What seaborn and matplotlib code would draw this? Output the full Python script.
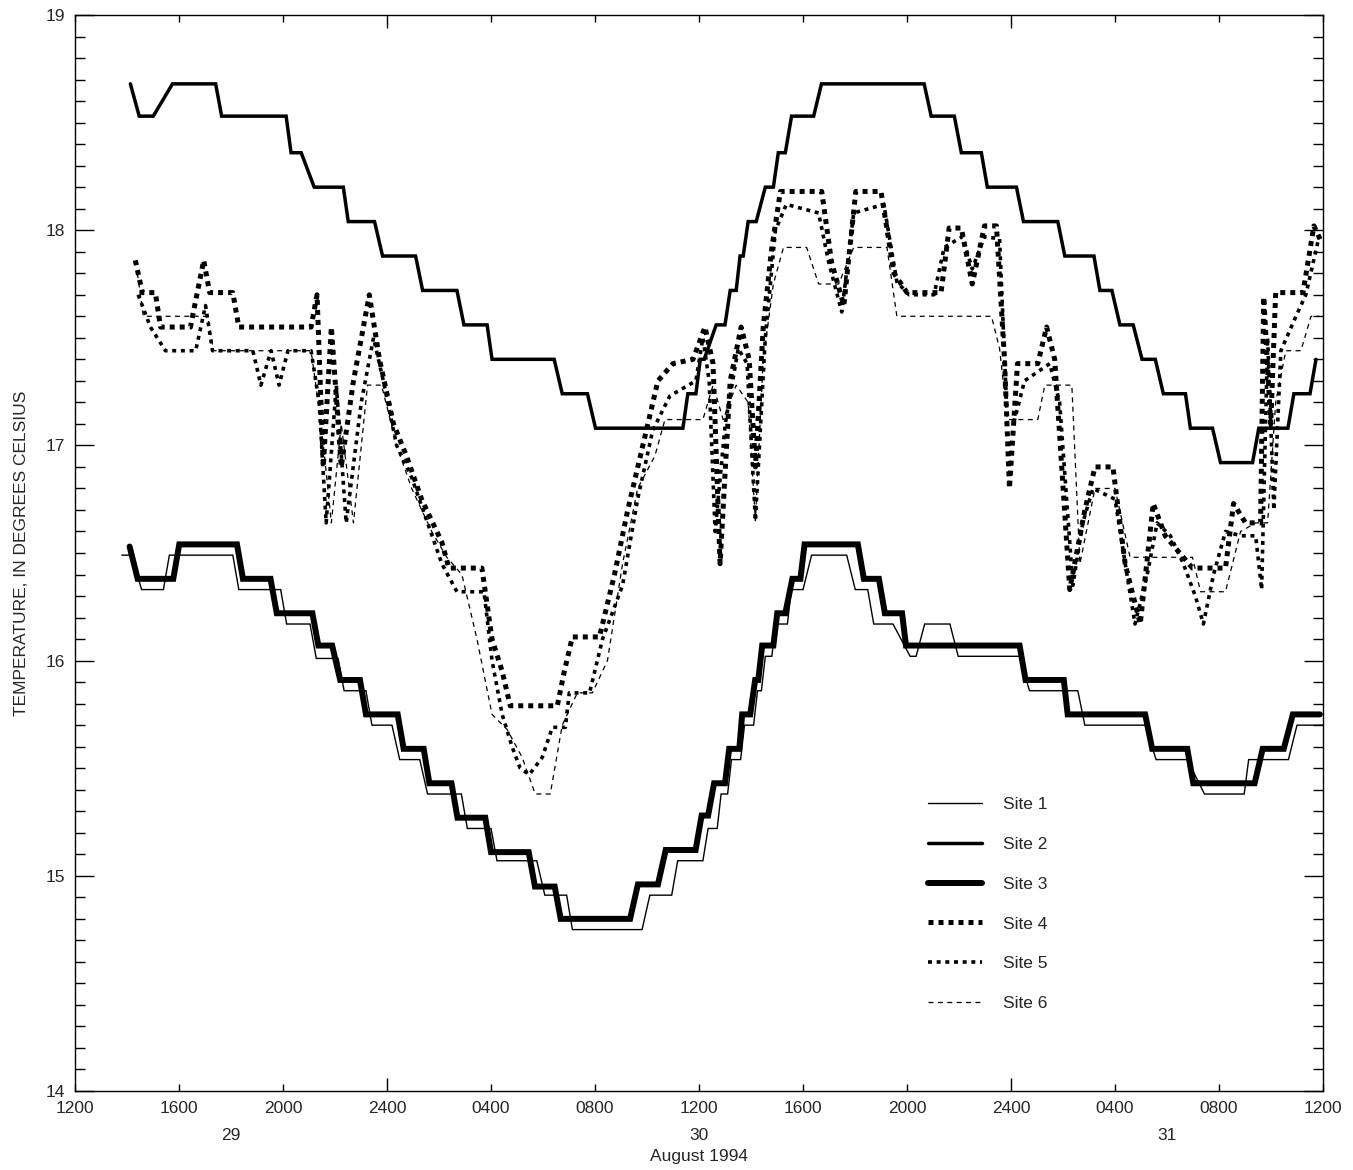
import numpy as np
import pandas as pd
import matplotlib
matplotlib.use('Agg')
import matplotlib.pyplot as plt
from matplotlib.ticker import MultipleLocator, NullLocator
import seaborn as sns

# times are hours after 1200 on 29 August 1994, temperatures in deg C
site1_t = [1.80, 2.18, 2.56, 3.40, 3.63, 6.07, 6.30, 7.91, 8.14, 9.04, 9.28, 10.12, 10.35, 11.19, 11.42, 12.19,
           12.49, 13.26, 13.56, 14.86, 15.09, 16.00, 16.23, 17.76, 18.07, 18.91, 19.13, 21.81, 22.11, 22.95,
           23.18, 24.15, 24.35, 24.70, 24.85, 25.10, 25.25, 25.60, 25.75, 26.10, 26.25, 26.40, 26.55, 26.80,
           26.95, 27.40, 27.55, 28.00, 28.33, 29.68, 30.01, 30.49, 30.72, 31.46, 32.12, 32.35, 32.68, 33.65,
           33.97, 36.33, 36.71, 38.57, 38.84, 41.16, 41.58, 42.78, 43.44, 44.97, 45.14, 46.67, 47.00, 48.00]
site1_v = [16.49, 16.49, 16.33, 16.33, 16.49, 16.49, 16.33, 16.33, 16.17, 16.17, 16.01, 16.01, 15.86, 15.86, 15.70, 15.70,
           15.54, 15.54, 15.38, 15.38, 15.22, 15.22, 15.07, 15.07, 14.91, 14.91, 14.75, 14.75, 14.91, 14.91,
           15.07, 15.07, 15.22, 15.22, 15.38, 15.38, 15.54, 15.54, 15.70, 15.70, 15.86, 15.86, 16.02, 16.02,
           16.17, 16.17, 16.33, 16.33, 16.49, 16.49, 16.33, 16.33, 16.17, 16.17, 16.02, 16.02, 16.17, 16.17,
           16.02, 16.02, 15.86, 15.86, 15.70, 15.70, 15.54, 15.54, 15.38, 15.38, 15.54, 15.54, 15.70, 15.70]

site2_t = [2.13, 2.47, 3.01, 3.75, 5.41, 5.64, 8.12, 8.31, 8.70, 9.20, 10.32, 10.51, 11.52, 11.83, 13.10, 13.37,
           14.69, 14.96, 15.85, 16.04, 18.43, 18.74, 19.71, 20.02, 23.38, 23.57, 23.88, 24.05, 24.20, 24.66,
           25.00, 25.20, 25.43, 25.58, 25.70, 25.89, 26.20, 26.55, 26.86, 27.05, 27.32, 27.56, 28.41, 28.71,
           32.66, 32.93, 33.82, 34.09, 34.86, 35.09, 36.21, 36.48, 37.80, 38.07, 39.19, 39.42, 39.88, 40.19,
           40.70, 41.04, 41.55, 41.86, 42.71, 42.90, 43.75, 44.06, 45.29, 45.53, 46.65, 46.88, 47.50, 47.73]
site2_v = [18.68, 18.53, 18.53, 18.68, 18.68, 18.53, 18.53, 18.36, 18.36, 18.20, 18.20, 18.04, 18.04, 17.88, 17.88, 17.72,
           17.72, 17.56, 17.56, 17.40, 17.40, 17.24, 17.24, 17.08, 17.08, 17.24, 17.24, 17.40, 17.40, 17.56,
           17.56, 17.72, 17.72, 17.88, 17.88, 18.04, 18.04, 18.20, 18.20, 18.36, 18.36, 18.53, 18.53, 18.68,
           18.68, 18.53, 18.53, 18.36, 18.36, 18.20, 18.20, 18.04, 18.04, 17.88, 17.88, 17.72, 17.72, 17.56,
           17.56, 17.40, 17.40, 17.24, 17.24, 17.08, 17.08, 16.92, 16.92, 17.08, 17.08, 17.24, 17.24, 17.40]

site3_t = [2.10, 2.41, 3.78, 4.01, 6.23, 6.46, 7.52, 7.76, 9.13, 9.36, 9.89, 10.20, 10.96, 11.19, 12.41, 12.64,
           13.41, 13.63, 14.48, 14.71, 15.78, 16.00, 17.45, 17.69, 18.45, 18.68, 21.35, 21.65, 22.42, 22.72,
           23.87, 24.10, 24.35, 24.58, 25.00, 25.16, 25.55, 25.66, 25.97, 26.16, 26.28, 26.43, 26.86, 27.01,
           27.32, 27.59, 27.90, 28.06, 30.11, 30.34, 30.92, 31.15, 31.81, 31.96, 36.33, 36.56, 38.03, 38.18,
           41.16, 41.43, 42.78, 43.01, 45.37, 45.68, 46.49, 46.84, 47.88]
site3_v = [16.53, 16.38, 16.38, 16.54, 16.54, 16.38, 16.38, 16.22, 16.22, 16.07, 16.07, 15.91, 15.91, 15.75, 15.75, 15.59,
           15.59, 15.43, 15.43, 15.27, 15.27, 15.11, 15.11, 14.95, 14.95, 14.80, 14.80, 14.96, 14.96, 15.12,
           15.12, 15.28, 15.28, 15.43, 15.43, 15.59, 15.59, 15.75, 15.75, 15.91, 15.91, 16.07, 16.07, 16.22,
           16.22, 16.38, 16.38, 16.54, 16.54, 16.38, 16.38, 16.22, 16.22, 16.07, 16.07, 15.91, 15.91, 15.75,
           15.75, 15.59, 15.59, 15.43, 15.43, 15.59, 15.59, 15.75, 15.75]

site4_t = [2.32, 2.59, 3.09, 3.29, 4.44, 4.95, 5.18, 6.07, 6.30, 9.08, 9.31, 9.55, 9.86, 10.24, 10.71, 11.32,
           11.71, 12.25, 12.75, 13.33, 14.11, 14.38, 15.65, 16.04, 16.43, 16.74, 18.55, 18.82, 19.13, 20.17,
           20.75, 21.26, 21.84, 22.42, 23.00, 23.77, 24.23, 24.54, 24.81, 25.20, 25.62, 25.93, 26.17, 26.47,
           26.78, 27.13, 28.72, 29.10, 29.57, 30.03, 31.00, 31.50, 32.00, 33.31, 33.62, 34.09, 34.51, 34.98,
           35.44, 35.75, 35.94, 36.25, 37.03, 37.37, 37.68, 38.26, 38.84, 39.23, 39.92, 40.39, 40.97, 41.47,
           41.93, 42.98, 44.25, 44.56, 45.02, 45.60, 45.72, 45.99, 46.18, 47.23, 47.65, 47.92]
site4_v = [17.86, 17.71, 17.71, 17.55, 17.55, 17.86, 17.71, 17.71, 17.55, 17.55, 17.70, 16.90, 17.55, 16.90, 17.30, 17.70,
           17.40, 17.10, 16.95, 16.75, 16.55, 16.43, 16.43, 16.10, 15.95, 15.79, 15.79, 15.95, 16.11, 16.11,
           16.40, 16.70, 17.00, 17.30, 17.38, 17.40, 17.55, 17.38, 16.45, 17.30, 17.55, 17.40, 16.90, 17.55,
           17.90, 18.18, 18.18, 17.85, 17.65, 18.18, 18.18, 17.80, 17.71, 17.71, 18.01, 18.01, 17.75, 18.02,
           18.02, 17.40, 16.80, 17.38, 17.38, 17.55, 17.40, 16.33, 16.70, 16.90, 16.90, 16.45, 16.17, 16.73,
           16.58, 16.43, 16.43, 16.73, 16.64, 16.64, 17.69, 17.10, 17.71, 17.71, 18.02, 17.95]

site5_t = [2.43, 2.90, 3.48, 4.64, 5.02, 5.29, 6.84, 7.15, 7.54, 7.85, 8.19, 9.08, 9.39, 9.66, 10.05, 10.43,
           11.01, 11.48, 11.86, 12.37, 12.95, 13.53, 14.11, 14.69, 15.73, 16.04, 16.43, 16.81, 17.12, 17.47,
           17.97, 18.36, 18.86, 19.01, 19.79, 20.29, 21.06, 21.64, 22.22, 22.88, 23.88, 24.15, 24.39, 24.62,
           25.01, 25.51, 25.85, 26.17, 26.55, 26.94, 27.36, 28.60, 28.99, 29.49, 29.95, 31.11, 31.61, 32.08,
           33.04, 33.43, 34.13, 34.51, 34.98, 35.56, 35.86, 36.14, 36.52, 37.49, 37.87, 38.38, 38.76, 39.15,
           40.00, 40.46, 40.77, 41.24, 41.62, 42.13, 42.63, 43.09, 43.40, 43.79, 44.25, 44.83, 45.41, 45.64,
           45.87, 46.11, 46.38, 46.96, 47.34, 47.81]
site5_v = [17.70, 17.55, 17.44, 17.44, 17.65, 17.44, 17.44, 17.28, 17.44, 17.28, 17.44, 17.44, 17.20, 16.64, 17.28, 16.64,
           17.20, 17.50, 17.30, 17.00, 16.85, 16.65, 16.45, 16.32, 16.32, 16.00, 15.75, 15.60, 15.50, 15.47,
           15.55, 15.69, 15.69, 15.85, 15.85, 16.10, 16.35, 16.75, 17.07, 17.23, 17.30, 17.50, 17.30, 16.60,
           17.10, 17.45, 17.38, 16.65, 17.50, 18.00, 18.12, 18.08, 17.85, 17.62, 18.08, 18.12, 17.76, 17.70,
           17.70, 17.92, 17.97, 17.82, 17.97, 17.96, 17.10, 17.12, 17.30, 17.38, 17.20, 16.35, 16.64, 16.80,
           16.75, 16.40, 16.17, 16.40, 16.64, 16.58, 16.45, 16.30, 16.17, 16.40, 16.60, 16.58, 16.58, 16.33,
           17.50, 16.70, 17.44, 17.60, 17.70, 17.95]

site6_t = [2.40, 2.63, 5.10, 5.33, 9.08, 9.47, 9.86, 10.24, 10.71, 11.25, 11.79, 12.37, 12.95, 13.72, 14.30, 14.88,
           15.46, 16.04, 16.62, 17.20, 17.70, 18.28, 18.74, 19.32, 19.90, 20.48, 21.06, 21.64, 22.30, 22.69,
           24.15, 24.54, 24.93, 25.43, 25.89, 26.17, 26.47, 26.86, 27.25, 28.14, 28.60, 29.37, 29.95, 31.23,
           31.61, 35.25, 35.56, 35.86, 37.03, 37.30, 38.34, 38.65, 39.23, 40.00, 40.58, 42.98, 43.29, 44.25,
           44.83, 45.41, 45.87, 46.18, 46.57, 47.15, 47.54, 47.85]
site6_v = [17.80, 17.60, 17.60, 17.44, 17.44, 17.10, 16.64, 17.10, 16.64, 17.28, 17.28, 17.00, 16.80, 16.60, 16.48, 16.40,
           16.10, 15.75, 15.68, 15.55, 15.38, 15.38, 15.70, 15.85, 15.85, 16.00, 16.45, 16.80, 16.95, 17.12,
           17.12, 17.28, 17.12, 17.28, 17.20, 16.65, 17.40, 17.75, 17.92, 17.92, 17.75, 17.75, 17.92, 17.92,
           17.60, 17.60, 17.45, 17.12, 17.12, 17.28, 17.28, 16.45, 16.80, 16.80, 16.48, 16.48, 16.32, 16.32,
           16.60, 16.64, 16.64, 17.20, 17.44, 17.44, 17.60, 17.60]

site_names = ['Site 1', 'Site 2', 'Site 3', 'Site 4', 'Site 5', 'Site 6']
xtick_labels = ['1200', '1600', '2000', '2400', '0400', '0800', '1200',
                '1600', '2000', '2400', '0400', '0800', '1200']
day_labels = ['29', '30', '31']
day_pos = [6, 24, 42]

series = [(site1_t, site1_v), (site2_t, site2_v), (site3_t, site3_v),
          (site4_t, site4_v), (site5_t, site5_v), (site6_t, site6_v)]
widths = [1.0, 2.5, 4.3, 3.6, 2.6, 0.9]
styles = ['-', '-', '-', (0, (1.0, 1.0)), (0, (1.1, 1.3)), (0, (4.0, 3.5))]

sns.set_style('ticks')
plt.rcParams['font.family'] = ['Liberation Sans', 'DejaVu Sans']

fig = plt.figure(figsize=(13.53, 11.70), dpi=100)
ax = fig.add_axes([75 / 1353, 1 - 1091 / 1170, 1248 / 1353, 1076 / 1170])

for name, (t, v), lw, ls in zip(site_names, series, widths, styles):
    d = pd.DataFrame({'hour': t, 'temp': v})
    sns.lineplot(data=d, x='hour', y='temp', ax=ax, color='black', linewidth=lw,
                 linestyle=ls, label=name, sort=False, estimator=None)
for ln in ax.get_lines():
    ln.set_solid_joinstyle('miter')
    ln.set_dash_capstyle('butt')

ax.set_xlim(0, 48)
ax.set_ylim(14, 19)
ax.set_xticks(range(0, 49, 4))
ax.set_xticklabels(xtick_labels)
ax.set_yticks(range(14, 20))
ax.xaxis.set_minor_locator(NullLocator())
ax.yaxis.set_minor_locator(MultipleLocator(0.1))
ax.tick_params(axis='both', which='both', direction='in', top=True, right=True,
               color='black', width=1, labelsize=12.5)
ax.tick_params(axis='y', which='major', length=14, pad=7)
ax.tick_params(axis='y', which='minor', length=7)
ax.tick_params(axis='x', which='major', length=5, pad=7)
for lab, tk in zip(xtick_labels, ax.xaxis.get_major_ticks()):
    if lab == '2400':
        tk.tick1line.set_markersize(9.5)
        tk.tick2line.set_markersize(9.5)
for s in ax.spines.values():
    s.set_color('black')
    s.set_linewidth(1)

ax.set_xlabel('August 1994', fontsize=12.5, labelpad=24)
ax.set_ylabel('TEMPERATURE, IN DEGREES CELSIUS', fontsize=12.5, labelpad=12)
for lab, x in zip(day_labels, day_pos):
    ax.text(x, -0.041, lab, transform=ax.get_xaxis_transform(), ha='center', va='center', fontsize=12.5)

ax.legend(loc='upper left', bbox_to_anchor=(928 / 1353, 1 - 797 / 1170), bbox_transform=fig.transFigure,
          frameon=False, fontsize=12.5, handlelength=3.1, handletextpad=1.2, labelspacing=1.42,
          borderpad=0, borderaxespad=0)

fig.savefig('out.png', dpi=100)
